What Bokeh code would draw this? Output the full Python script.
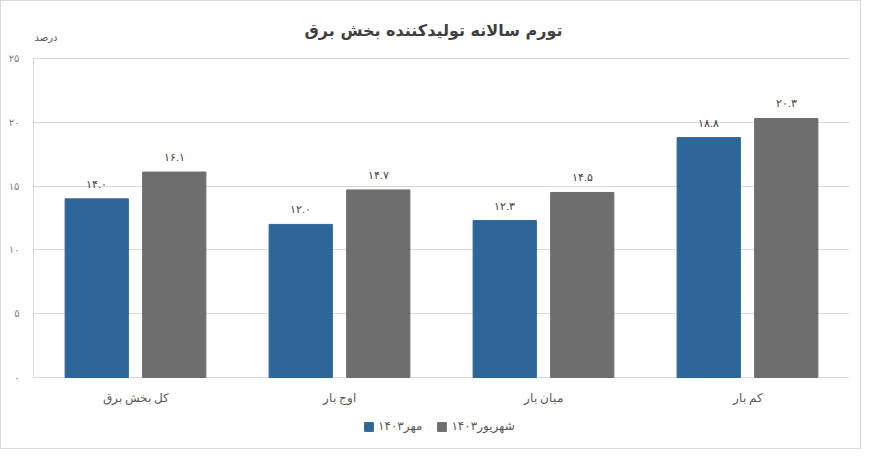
from bokeh.plotting import figure
from bokeh.models import ColumnDataSource, FactorRange, Range1d, Legend, LegendItem, LabelSet, Label
from bokeh.transform import dodge
from bokeh.embed import file_html
from bokeh.resources import INLINE

# داده ها
categories = ["کل بخش برق", "اوج بار", "میان بار", "کم بار"]
mehr = [14.0, 12.0, 12.3, 18.8]
shahrivar = [16.1, 14.7, 14.5, 20.3]
series_names = ["مهر۱۴۰۳", "شهریور۱۴۰۳"]
y_ticks = [0, 5, 10, 15, 20, 25]
title = "تورم سالانه تولیدکننده بخش برق"
unit = "درصد"

fa = str.maketrans("0123456789", "۰۱۲۳۴۵۶۷۸۹")

def fa_num(v):
    return f"{v:.1f}".translate(fa)

src = ColumnDataSource(data=dict(
    cat=categories,
    mehr=mehr,
    shahrivar=shahrivar,
    mehr_txt=[fa_num(v) for v in mehr],
    shahrivar_txt=[fa_num(v) for v in shahrivar],
))

FONT = "DejaVu Sans"
W, H = 861, 449
# قاب کل ارتفاع را می گیرد تا عنوان و راهنما داخل آن جا شوند
px = 12.76
y_lo = -(H - 376) / px
y_hi = 25 + 57 / px

p = figure(x_range=FactorRange(*categories, range_padding=0), y_range=Range1d(y_lo, y_hi),
           width=W, height=H, output_backend="svg", toolbar_location=None,
           x_axis_location=None, title_location=None,
           min_border_left=32, min_border_right=13, min_border_top=0, min_border_bottom=0)
p.styles = {"border": "1px solid #d9d9d9"}

b1 = p.vbar(x=dodge("cat", -0.19, range=p.x_range), top="mehr", width=0.31,
            source=src, color="#2D6699")
b2 = p.vbar(x=dodge("cat", 0.19, range=p.x_range), top="shahrivar", width=0.31,
            source=src, color="#6E6E6E")

for col, off in (("mehr", -0.19), ("shahrivar", 0.19)):
    p.add_layout(LabelSet(x=dodge("cat", off, range=p.x_range), y=col, text=col + "_txt",
                          source=src, y_offset=9, text_align="center", text_baseline="bottom",
                          text_font_size="11px", text_color="#404040", text_font=FONT))

# برچسب دسته ها زیر خط صفر
p.add_layout(LabelSet(x="cat", y=0, text="cat", source=src, y_offset=-20,
                      text_align="center", text_baseline="middle",
                      text_font_size="12px", text_color="#595959", text_font=FONT))

p.add_layout(Label(x=400, y=H - 29, x_units="screen", y_units="screen", text=title,
                   text_align="center", text_baseline="middle", text_font=FONT,
                   text_font_size="16px", text_font_style="bold", text_color="#404040"))
p.add_layout(Label(x=1, y=H - 36, x_units="screen", y_units="screen", text=unit,
                   text_align="left", text_baseline="middle", text_font=FONT,
                   text_font_size="10px", text_color="#595959"))

p.outline_line_color = None
p.xgrid.grid_line_color = None
p.ygrid.grid_line_color = "#d9d9d9"
p.ygrid.ticker = y_ticks

p.yaxis.ticker = y_ticks
p.yaxis.bounds = (0, 25)
p.yaxis.major_label_overrides = {t: str(t).translate(fa) for t in y_ticks}
p.yaxis.axis_line_color = "#d9d9d9"
p.yaxis.major_tick_line_color = None
p.yaxis.minor_tick_line_color = None
p.yaxis.major_label_text_font_size = "10px"
p.yaxis.major_label_text_color = "#7f7f7f"
p.yaxis.major_label_text_font = FONT
p.yaxis.major_label_standoff = 8

legend = Legend(items=[LegendItem(label=series_names[0], renderers=[b1]),
                       LegendItem(label=series_names[1], renderers=[b2])],
                orientation="horizontal", location=(330, 17), border_line_color=None,
                background_fill_alpha=0,
                label_text_font_size="12px", label_text_color="#595959", label_text_font=FONT,
                glyph_width=11, glyph_height=11, spacing=14, label_standoff=4,
                padding=4, margin=0)
p.add_layout(legend)

open("out.html", "w").write(file_html(p, INLINE))
